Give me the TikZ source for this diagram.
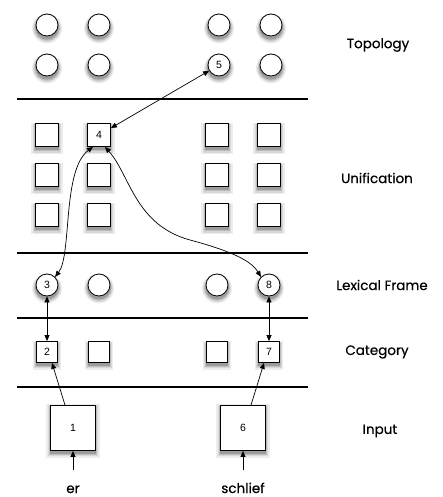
\documentclass[tikz,border=0pt]{standalone}
\usepackage{fontspec}
\setmainfont{Poppins}
\newfontfamily\labfont{Poppins}[FakeBold=0.5]
\newfontfamily\numfont{Liberation Sans}
\usetikzlibrary{shadows,arrows.meta}
\begin{document}
\begin{tikzpicture}[x=1pt,y=-1pt,
  shad/.style={
    general shadow={fill=black,opacity=0.07,shadow scale=1.36,shadow yshift=-2.5pt},
    general shadow={fill=black,opacity=0.09,shadow scale=1.26,shadow yshift=-2.5pt},
    general shadow={fill=black,opacity=0.12,shadow scale=1.17,shadow yshift=-2.5pt},
    general shadow={fill=black,opacity=0.18,shadow scale=1.08,shadow yshift=-2.5pt}},
  circ/.style={circle,draw,fill=white,minimum size=22pt,inner sep=0pt,line width=0.8pt,font=\numfont\fontsize{10.5}{10.5}\selectfont,shad},
  sq/.style={rectangle,draw,fill=white,minimum size=23pt,inner sep=0pt,line width=0.8pt,font=\numfont\fontsize{10.5}{10.5}\selectfont,shad},
  smallsq/.style={sq,minimum size=21pt},
  bigsq/.style={rectangle,draw,fill=white,minimum size=45pt,inner sep=0pt,line width=0.8pt,font=\numfont\fontsize{10.5}{10.5}\selectfont,
    general shadow={fill=black,opacity=0.07,shadow scale=1.18,shadow yshift=-2.5pt},
    general shadow={fill=black,opacity=0.09,shadow scale=1.13,shadow yshift=-2.5pt},
    general shadow={fill=black,opacity=0.12,shadow scale=1.08,shadow yshift=-2.5pt},
    general shadow={fill=black,opacity=0.18,shadow scale=1.04,shadow yshift=-2.5pt}},
  sep/.style={line width=1.6pt},
  lab/.style={font=\labfont\fontsize{13.5}{13.5}\selectfont},
  arr/.style={-{Triangle[length=6pt,width=5pt]},line width=0.7pt},
  darr/.style={{Triangle[length=6pt,width=5pt]}-{Triangle[length=6pt,width=5pt]},line width=0.7pt}]
\useasboundingbox (0,0) rectangle (443,497);
% separators
\coordinate (l1a) at (17,99); \coordinate (l1b) at (308,99);
\coordinate (l2a) at (17,253); \coordinate (l2b) at (308,253);
\coordinate (l3a) at (17,318); \coordinate (l3b) at (308,318);
\coordinate (l4a) at (17,387); \coordinate (l4b) at (308,387);
\draw[sep] (l1a) -- (l1b);
\draw[sep] (l2a) -- (l2b);
\draw[sep] (l3a) -- (l3b);
\draw[sep] (l4a) -- (l4b);
% topology
\node[circ] (t11) at (47,25) {};
\node[circ] (t12) at (99,25) {};
\node[circ] (t13) at (219,25) {};
\node[circ] (t14) at (271,25) {};
\node[circ] (t21) at (47,65) {};
\node[circ] (t22) at (99,65) {};
\node[circ] (n5) at (219,65) {5};
\node[circ] (t24) at (271,65) {};
% unification
\node[sq] (u11) at (47,135) {};
\node[sq] (n4) at (99,135) {4};
\node[sq] (u13) at (217,135) {};
\node[sq] (u14) at (269,135) {};
\node[sq] (u21) at (47,175) {};
\node[sq] (u22) at (99,175) {};
\node[sq] (u23) at (217,175) {};
\node[sq] (u24) at (269,175) {};
\node[sq] (u31) at (47,215) {};
\node[sq] (u32) at (99,215) {};
\node[sq] (u33) at (217,215) {};
\node[sq] (u34) at (269,215) {};
% lexical frame
\node[circ] (n3) at (47,285) {3};
\node[circ] (l2) at (99,285) {};
\node[circ] (l3) at (217,285) {};
\node[circ] (n8) at (269,285) {8};
% category
\node[smallsq] (n2) at (47,352) {2};
\node[smallsq] (c2) at (99,352) {};
\node[smallsq] (c3) at (217,352) {};
\node[smallsq] (n7) at (269,352) {7};
% input
\node[bigsq] (n1) at (73,428) {1};
\node[bigsq] (n6) at (243,428) {6};
\node[lab,anchor=base] (er) at (73,493) {er};
\node[lab,anchor=base] (sch) at (243,493) {schlief};
\coordinate (erin) at (73,470);
\coordinate (schin) at (243,470);
% labels
\node[lab] (tl) at (378,45) {Topology};
\node[lab] (ul) at (377,178) {Unification};
\node[lab] (ll) at (382,285) {Lexical Frame};
\node[lab] (cl) at (377,352) {Category};
\node[lab] (il) at (380,431) {Input};
% arrows
\draw[arr] (erin) -- (n1.south);
\draw[arr] (schin) -- (n6.south);
\draw[arr] ([xshift=-8pt]n1.north) -- ([xshift=5pt]n2.south);
\draw[arr] ([xshift=8pt]n6.north) -- ([xshift=-5pt]n7.south);
\draw[darr] (n3) -- (n2);
\draw[darr] (n8) -- (n7);
\draw[darr] (n5) -- (n4);
\draw[darr] (n3.north east) .. controls (72,255) and (62,170) .. ([xshift=-6pt]n4.south);
\draw[darr] ([xshift=6pt]n4.south) .. controls (130,175) and (135,225) .. (190,240) .. controls (235,252) and (252,262) .. (n8.north west);
\end{tikzpicture}
\end{document}
